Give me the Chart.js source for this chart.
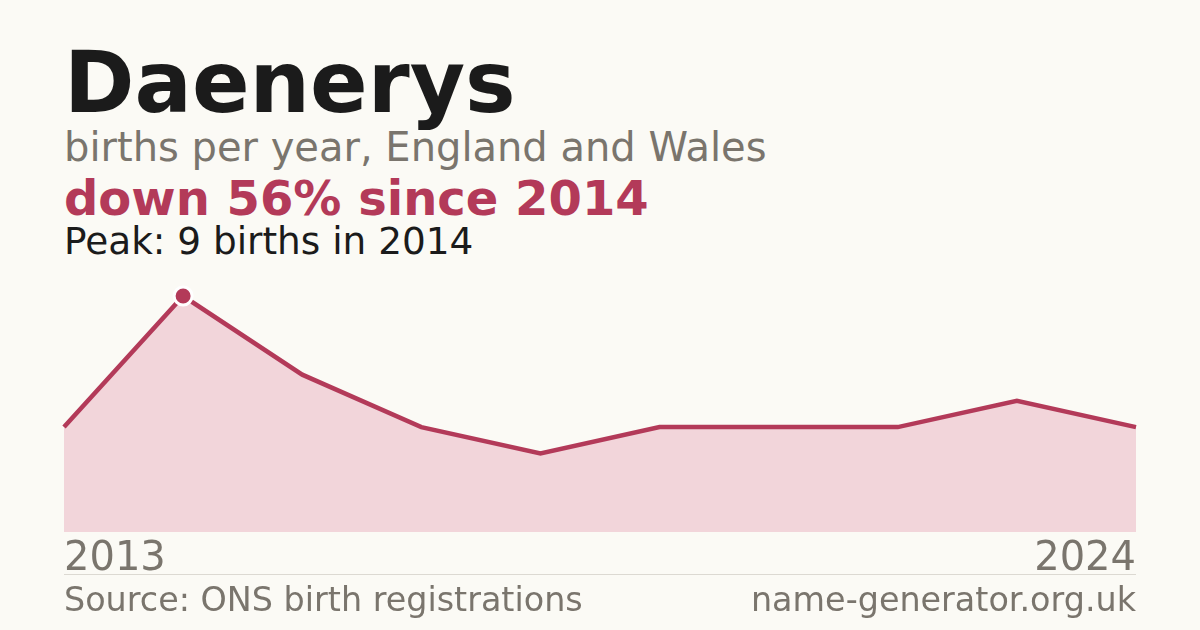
<!DOCTYPE html>
<html>
<head>
<meta charset="utf-8">
<script src="https://cdn.jsdelivr.net/npm/chart.js@4.4.1/dist/chart.umd.min.js"></script>
<style>
  html, body { margin: 0; padding: 0; }
  body {
    width: 1200px; height: 630px; overflow: hidden;
    background: #fbfaf5;
    font-family: "DejaVu Sans", sans-serif;
    position: relative;
  }
  .txt { position: absolute; left: 64px; white-space: nowrap; line-height: 1; }
  #title { font-size: 85px; font-weight: bold; color: #1b1b1b; top: 40px; }
  #subtitle { font-size: 40px; color: #7a756d; top: 127px; }
  #change { font-size: 48px; font-weight: bold; color: #b33a59; top: 174px; }
  #peak { font-size: 37.4px; color: #1b1b1b; top: 223px; }
  #chart-wrap { position: absolute; left: 54px; top: 270px; width: 1092px; height: 318px; }
  #rule { position: absolute; left: 64px; width: 1072px; top: 574px; height: 1px; background: #dcd9d2; }
  .foot { position: absolute; top: 583px; font-size: 33.4px; color: #7a756d; line-height: 1; white-space: nowrap; }
  #source { left: 64px; }
  #site { right: 64px; }
</style>
</head>
<body>
<div class="txt" id="title">Daenerys</div>
<div class="txt" id="subtitle">births per year, England and Wales</div>
<div class="txt" id="change">down 56% since 2014</div>
<div class="txt" id="peak">Peak: 9 births in 2014</div>
<div id="chart-wrap"><canvas id="chart"></canvas></div>
<div id="rule"></div>
<div class="foot" id="source">Source: ONS birth registrations</div>
<div class="foot" id="site">name-generator.org.uk</div>
<script>
  // Years with published counts (gaps where the name was not reported)
  const years = ['2013', '2014', '2015', '2016', '2017', '2018', '2019', '2022', '2023', '2024'];
  const births = [4, 9, 6, 4, 3, 4, 4, 4, 5, 4];

  const lineColour = '#b33a59';
  const fillColour = '#f2d5da';
  const greyText = '#7a756d';

  const peakValue = Math.max(...births);
  const peakIndex = births.indexOf(peakValue);

  const ctx = document.getElementById('chart').getContext('2d');
  new Chart(ctx, {
    type: 'line',
    data: {
      labels: years,
      datasets: [
        {
          data: births,
          borderColor: lineColour,
          backgroundColor: fillColour,
          borderWidth: 4.5,
          fill: 'origin',
          tension: 0,
          clip: false,
          pointRadius: births.map((v, i) => (i === peakIndex ? 9 : 0)),
          pointBackgroundColor: lineColour,
          pointBorderColor: '#ffffff',
          pointBorderWidth: 3,
          pointHoverRadius: 0,
        },
      ],
    },
    options: {
      responsive: true,
      maintainAspectRatio: false,
      animation: false,
      layout: {
        padding: { top: 26, left: 10, right: 10, bottom: 0 },
      },
      scales: {
        x: {
          offset: false,
          grid: { display: false, drawTicks: false },
          border: { display: false },
          ticks: {
            autoSkip: false,
            maxRotation: 0,
            align: 'inner',
            padding: 4,
            color: greyText,
            font: { family: 'DejaVu Sans', size: 40 },
            callback: function (value, index) {
              return index === 0 || index === years.length - 1 ? years[index] : '';
            },
          },
        },
        y: {
          display: false,
          min: 0,
          max: peakValue,
        },
      },
      plugins: {
        legend: { display: false },
        tooltip: { enabled: false },
      },
    },
  });
</script>
</body>
</html>
